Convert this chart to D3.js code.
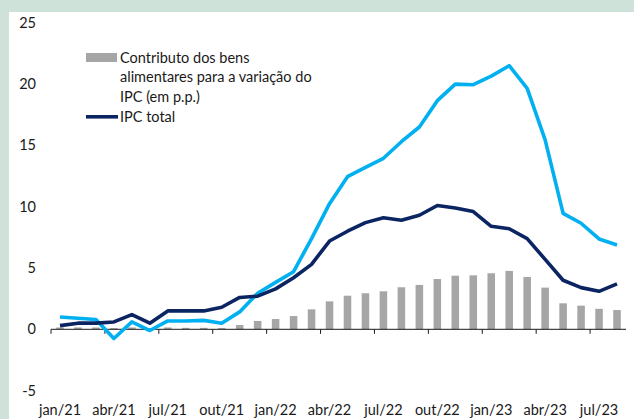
<!DOCTYPE html>
<html>
<head>
<meta charset="utf-8">
<script src="https://cdn.jsdelivr.net/npm/d3@7"></script>
<style>
  html, body { margin: 0; padding: 0; background: #cfe2da; }
  svg { display: block; }
  text { font-family: Lato, "Open Sans", sans-serif; fill: #1a1a1a; }
</style>
</head>
<body>
<script>
// ---- data ----
const months = ["jan/21","fev/21","mar/21","abr/21","mai/21","jun/21","jul/21","ago/21","set/21","out/21","nov/21","dez/21",
                "jan/22","fev/22","mar/22","abr/22","mai/22","jun/22","jul/22","ago/22","set/22","out/22","nov/22","dez/22",
                "jan/23","fev/23","mar/23","abr/23","mai/23","jun/23","jul/23","ago/23"];
const tickLabels = ["jan/21","abr/21","jul/21","out/21","jan/22","abr/22","jul/22","out/22","jan/23","abr/23","jul/23"];
const yTicks = [-5, 0, 5, 10, 15, 20, 25];
// Contributo dos bens alimentares para a variação do IPC (p.p.)
const foodContribution = [0.15,0.15,0.15,0.1,0.15,0.1,0.15,0.12,0.12,0.1,0.35,0.68,
                          0.84,1.08,1.63,2.28,2.74,2.94,3.1,3.43,3.62,4.1,4.37,4.4,
                          4.57,4.76,4.27,3.4,2.12,1.93,1.67,1.57];
// IPC total (%)
const ipcTotal = [0.3,0.5,0.5,0.6,1.2,0.5,1.5,1.5,1.5,1.8,2.6,2.7,
                  3.3,4.2,5.3,7.2,8.0,8.7,9.1,8.9,9.3,10.1,9.9,9.6,
                  8.4,8.2,7.4,5.7,4.0,3.4,3.1,3.7];
// IPC bens alimentares (%)
const ipcFood = [1.0,0.9,0.8,-0.75,0.6,-0.1,0.68,0.68,0.73,0.5,1.42,2.94,
                 3.83,4.7,7.4,10.25,12.45,13.2,13.95,15.3,16.5,18.65,20.0,19.95,
                 20.65,21.5,19.65,15.45,9.45,8.65,7.37,6.88];
const legendBars = ["Contributo dos bens", "alimentares para a variação do", "IPC (em p.p.)"];
const legendLine = "IPC total";

// ---- layout ----
const W = 634, H = 419;
const svg = d3.select("body").append("svg").attr("width", W).attr("height", H);
svg.append("rect").attr("x", 9).attr("y", 12).attr("width", W - 9).attr("height", H - 12).attr("fill", "#ffffff");

const x = d3.scaleBand().domain(months).range([51, 626]).paddingInner(0.58).paddingOuter(0.29);
const y = d3.scaleLinear().domain([-5, 25]).range([390.6, 22.8]);
const cx = d => x(d) + x.bandwidth() / 2;

// y labels
svg.append("g").selectAll("text").data(yTicks).join("text")
  .attr("x", 36).attr("y", d => y(d)).attr("dy", "0.35em")
  .attr("text-anchor", "end").attr("font-size", 14.5).text(d => d);

// bars
svg.append("g").selectAll("rect").data(months).join("rect")
  .attr("x", d => x(d)).attr("width", x.bandwidth())
  .attr("y", (d, i) => y(Math.max(0, foodContribution[i])))
  .attr("height", (d, i) => Math.abs(y(foodContribution[i]) - y(0)))
  .attr("fill", "#a6a6a6");

// x axis
const axisY = y(0);
svg.append("line").attr("x1", 51).attr("x2", 626).attr("y1", axisY).attr("y2", axisY)
  .attr("stroke", "#1a1a1a").attr("stroke-width", 1);
const step = x.step();
svg.append("g").selectAll("line").data(tickLabels).join("line")
  .attr("x1", d => x(d) - step * 0.29).attr("x2", d => x(d) - step * 0.29)
  .attr("y1", axisY).attr("y2", axisY + 4.5)
  .attr("stroke", "#1a1a1a").attr("stroke-width", 1);
svg.append("g").selectAll("text").data(tickLabels).join("text")
  .attr("x", d => cx(d)).attr("y", 410).attr("dy", "0.35em")
  .attr("text-anchor", "middle").attr("font-size", 14.5).text(d => d);

// lines
const line = arr => d3.line().x((d, i) => cx(months[i])).y(d => y(d))(arr);
svg.append("path").attr("d", line(ipcFood)).attr("fill", "none")
  .attr("stroke", "#00b0f0").attr("stroke-width", 3.6).attr("stroke-linejoin", "round");
svg.append("path").attr("d", line(ipcTotal)).attr("fill", "none")
  .attr("stroke", "#0b2462").attr("stroke-width", 3.6).attr("stroke-linejoin", "round");

// legend
svg.append("rect").attr("x", 86).attr("y", 53).attr("width", 31).attr("height", 9).attr("fill", "#a6a6a6");
svg.append("g").selectAll("text").data(legendBars).join("text")
  .attr("x", 120).attr("y", (d, i) => 57.5 + i * 19.8).attr("dy", "0.35em")
  .attr("font-size", 14.5).text(d => d);
svg.append("line").attr("x1", 86).attr("x2", 118).attr("y1", 116.8).attr("y2", 116.8)
  .attr("stroke", "#0b2462").attr("stroke-width", 3.6);
svg.append("text").attr("x", 120).attr("y", 116.8).attr("dy", "0.35em")
  .attr("font-size", 14.5).text(legendLine);
</script>
</body>
</html>
